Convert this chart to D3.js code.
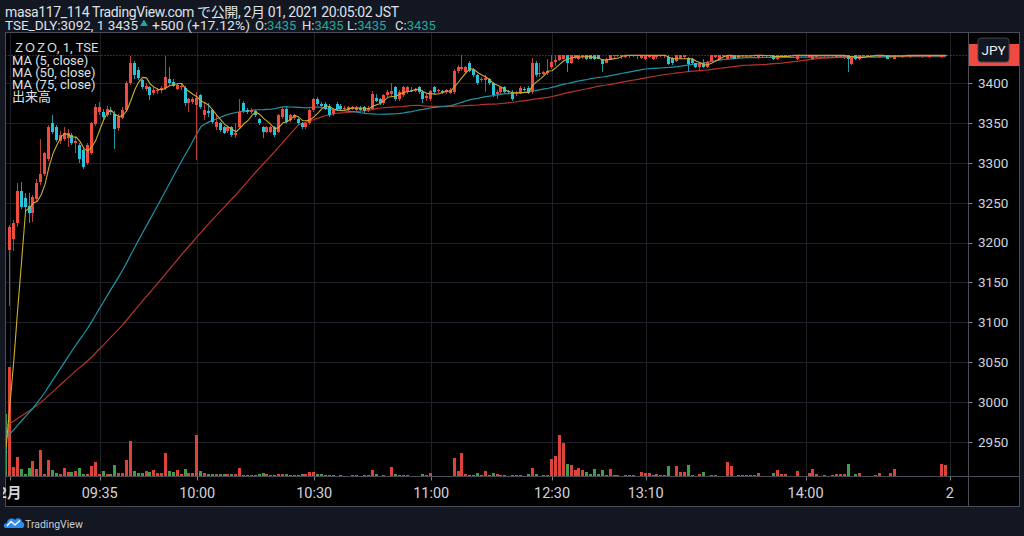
<!DOCTYPE html>
<html><head><meta charset="utf-8">
<script src="https://cdn.jsdelivr.net/npm/d3@7"></script>
<style>
html,body{margin:0;padding:0;background:#131722;overflow:hidden;}
svg{display:block;}
text{font-family:Roboto,"Noto Sans CJK JP",sans-serif;}
</style></head><body>
<svg id="c" width="1024" height="536"></svg>
<script>
// ---- DATA ----
// closes of the previous session that sit left of the visible window (used only for the moving averages)
const prevCloses = [
 3010,3012,3008,3006,3009,3005,3003,3007,3004,3001,3000,3002,2999,3003,3001,2998,2996,2999,2997,2995,2997,2994,2996,2993,2990,
 2978,2975,2972,2974,2970,2968,2971,2967,2965,2966,2963,2964,2961,2960,2962,2959,2960,2958,2957,2959,
 2956,2955,2957,2954,2953,2955,2952,2951,2953,2950,2951,2949,2950,2948,2947,2949,2946,2948,2945,2947,
 2944,2946,2943,2945,2942,
 2948,2945,2942,2944
];
// last bar of 29 Jan (visible at the left edge)  [open, high, low, close]
const prevBar = [2938, 2940, 2934, 2936];
const prevVol = 63;
// 1 Feb morning session [open, high, low, close]
const morningOHLC = [
 [3191,3222,3121,3220],[3204,3228,3190,3225],[3225,3275,3220,3265],[3265,3276,3242,3245],[3256,3262,3240,3245],
 [3246,3262,3225,3237],[3237,3260,3226,3257],[3255,3280,3252,3275],[3276,3330,3272,3286],[3286,3314,3284,3312],
 [3305,3348,3302,3345],[3350,3360,3336,3339],[3345,3348,3326,3329],[3327,3340,3324,3335],[3330,3345,3328,3337],
 [3331,3343,3320,3337],[3335,3338,3322,3325],[3325,3332,3312,3328],[3322,3325,3300,3305],[3316,3320,3292,3295],
 [3300,3325,3298,3322],[3313,3352,3310,3350],[3349,3374,3346,3370],[3364,3377,3360,3370],[3364,3368,3355,3358],
 [3360,3372,3358,3368],[3366,3370,3360,3364],[3362,3365,3318,3343],[3344,3362,3340,3358],[3357,3370,3355,3366],
 [3366,3403,3364,3400],[3400,3434,3398,3425],[3425,3428,3405,3410],[3417,3420,3404,3407],[3404,3406,3393,3395],
 [3393,3400,3390,3397],[3395,3397,3379,3385],[3388,3395,3385,3392],[3390,3394,3387,3392],[3391,3396,3388,3394],
 [3394,3434,3392,3408],[3406,3420,3398,3400],[3402,3405,3395,3397],[3393,3401,3391,3398],[3395,3399,3392,3397],
 [3394,3396,3372,3375],[3375,3382,3364,3380],[3376,3383,3374,3380],[3373,3389,3304,3382],[3385,3387,3368,3370],
 [3360,3375,3354,3366],[3365,3375,3358,3363],[3366,3368,3349,3351],[3345,3360,3341,3351],[3350,3352,3339,3341],
 [3345,3347,3336,3338],[3340,3347,3338,3345],[3345,3347,3333,3335],[3335,3350,3331,3337],[3345,3380,3343,3364],
 [3375,3378,3363,3365],[3366,3369,3362,3364],[3364,3369,3362,3367],[3365,3367,3358,3360],[3355,3357,3348,3350],
 [3345,3347,3331,3339],[3339,3347,3337,3345],[3339,3347,3337,3345],[3345,3347,3333,3335],[3339,3362,3337,3360],
 [3358,3370,3355,3368],[3368,3372,3349,3351],[3354,3362,3352,3360],[3356,3362,3354,3360],[3355,3357,3348,3350],
 [3350,3352,3343,3345],[3345,3352,3343,3350],[3350,3368,3348,3366],[3366,3382,3364,3380],[3380,3383,3372,3374],
 [3374,3376,3369,3371],[3374,3376,3366,3368],[3372,3374,3358,3360],[3361,3368,3359,3366],[3374,3376,3366,3368],
 [3372,3374,3366,3368],[3368,3371,3366,3369],[3367,3372,3365,3370],[3368,3372,3366,3370],[3367,3371,3365,3369],
 [3369,3371,3365,3367],[3370,3372,3363,3365],[3366,3371,3364,3369],[3368,3390,3366,3386],[3382,3386,3376,3378],
 [3380,3382,3373,3375],[3375,3387,3373,3385],[3385,3391,3383,3389],[3386,3400,3384,3390],[3395,3397,3378,3380],
 [3380,3391,3378,3389],[3385,3397,3383,3395],[3389,3397,3387,3395],[3392,3395,3389,3391],[3391,3394,3389,3392],
 [3395,3397,3387,3389],[3389,3391,3375,3380],[3381,3388,3378,3384],[3380,3392,3378,3390],[3395,3397,3387,3389],
 [3390,3393,3388,3391],[3390,3392,3387,3389],[3389,3393,3387,3391],[3388,3394,3386,3392],[3389,3418,3387,3416],
 [3415,3423,3413,3420],[3418,3435,3416,3420],[3414,3422,3412,3420],[3426,3428,3414,3416],[3417,3419,3408,3410],
 [3410,3412,3398,3400],[3404,3408,3402,3406],[3404,3410,3389,3407],[3405,3407,3398,3400],[3400,3402,3383,3385],
 [3387,3392,3380,3389],[3389,3397,3387,3395],[3395,3397,3387,3389],[3390,3392,3387,3389],[3389,3391,3378,3380],
 [3386,3390,3384,3388],[3388,3396,3386,3394],[3393,3395,3390,3392],[3394,3396,3386,3388],[3389,3432,3386,3425],
 [3425,3428,3408,3410],[3412,3425,3408,3413],[3412,3416,3410,3414],[3413,3430,3411,3415]
];
// 1 Feb afternoon session [open, high, low, close]
const afternoonOHLC = [
 [3420,3435,3418,3427],[3427,3435,3422,3429],[3429,3435,3428,3435],[3431,3435,3430,3435],[3435,3435,3414,3425],
 [3425,3435,3424,3435],[3432,3435,3430,3435],[3431,3435,3429,3435],[3433,3435,3431,3435],[3435,3435,3429,3430],
 [3435,3435,3430,3431],[3435,3435,3429,3430],[3435,3435,3430,3431],[3430,3431,3414,3424],[3426,3432,3425,3430],
 [3430,3435,3429,3435],[3434,3435,3432,3435],[3434,3435,3433,3435],[3434,3435,3431,3435],[3433,3435,3432,3435],
 [3434,3435,3432,3435],[3434,3435,3433,3435],[3434,3435,3430,3435],[3432,3435,3431,3435],[3430,3435,3429,3435],
 [3433,3435,3432,3435],[3430,3435,3429,3435],[3433,3435,3430,3435],[3434,3435,3433,3435],[3434,3435,3432,3435],
 [3433,3435,3423,3424],[3432,3433,3423,3425],[3428,3435,3427,3435],[3432,3435,3431,3435],[3433,3435,3432,3435],
 [3432,3433,3414,3424],[3431,3432,3424,3425],[3425,3426,3419,3420],[3420,3425,3415,3425],[3425,3431,3419,3420],
 [3420,3428,3419,3427],[3428,3435,3427,3435],[3433,3435,3432,3435],[3430,3435,3429,3435],[3434,3435,3433,3435],
 [3430,3435,3429,3435],[3432,3435,3431,3435],[3435,3435,3430,3431],[3432,3435,3431,3435],[3434,3435,3432,3435],
 [3434,3435,3433,3435],[3434,3435,3432,3435],[3434,3435,3433,3435],[3433,3435,3431,3435],[3434,3435,3433,3435],
 [3435,3435,3433,3434],[3435,3435,3433,3434],[3435,3435,3429,3430],[3430,3435,3429,3435],[3433,3435,3432,3435],
 [3433,3435,3432,3435],[3434,3435,3433,3435],[3434,3435,3433,3435],[3430,3435,3429,3435],[3434,3435,3433,3435],
 [3434,3435,3433,3435],[3433,3435,3432,3435],[3430,3435,3429,3435],[3433,3435,3432,3435],[3434,3435,3433,3435],
 [3434,3435,3432,3435],[3434,3435,3433,3435],[3434,3435,3433,3435],[3433,3435,3432,3435],[3433,3435,3432,3435],
 [3433,3435,3431,3435],[3435,3435,3414,3430],[3424,3434,3423,3433],[3435,3435,3429,3430],[3430,3435,3429,3435],
 [3434,3435,3433,3435],[3434,3435,3433,3435],[3434,3435,3433,3435],[3434,3435,3432,3435],[3433,3435,3432,3435],
 [3434,3435,3433,3435],[3435,3435,3430,3431],[3433,3435,3432,3435],[3431,3435,3430,3435],[3434,3435,3433,3435],
 [3434,3435,3432,3435],[3434,3435,3433,3435],[3433,3435,3432,3435],[3434,3435,3433,3435],[3434,3435,3433,3435],
 [3434,3435,3432,3435],[3434,3435,3433,3435],[3433,3435,3432,3435],[3434,3435,3433,3435],[3434,3435,3433,3435],
 [3433,3435,3432,3435],[3434,3435,3433,3435]
];
const morningVol = [
 110,10,20,8,3,9,16,8,27,3, 17,7,4,3,9,5,5,6,9,3, 3,11,15,3,6,3,3,12,4,4, 17,36,6,4,4,6,5,7,4,4,
 24,6,5,7,3,8,4,4,42,6, 4,3,3,3,3,3,3,3,3,9, 2,2,2,2,3,4,3,2,2,3, 3,3,2,2,2,3,3,5,5,3,
 3,2,2,2,1,2,1,1,2,2, 1,2,2,7,3,1,2,1,10,3, 2,2,2,1,1,1,3,2,4,1, 1,1,1,1,19,6,24,3,2,2,
 4,2,6,2,4,3,2,2,1,2, 2,2,1,3,9,3,1,2,2
];
const afternoonVol = [
 18,21,42,34,13,12,7,9,7,5, 3,8,3,7,2,8,2,2,1,2, 2,2,1,5,4,4,2,3,2,2, 11,1,11,5,5,12,2,1,3,5,
 1,2,2,1,1,15,11,1,2,2, 2,2,2,4,1,1,1,4,7,3, 3,1,1,6,1,1,4,8,3,1, 2,1,2,3,3,3,13,1,3,4,
 1,1,1,2,4,1,1,4,8,1, 1,1,1,1,1,1,1,1,1,1, 13,12
];
const priceTicks = [2950,3000,3050,3100,3150,3200,3250,3300,3350,3400];
const timeTickLabels = ["2月","09:35","10:00","10:30","11:00","12:30","13:10","14:00","2"];
const timeTickBars   = [0, 23, 48, 78, 108, 139, 163, 204, 241];
const maPeriods = [5, 50, 75];
const lastPrice = 3435;
const legendLines = ["MA (5, close)","MA (50, close)","MA (75, close)","出来高"];

// ---- SETUP ----
const bars = [prevBar].concat(morningOHLC, afternoonOHLC);   // bar k has index k-1
const vols = [prevVol].concat(morningVol, afternoonVol);
const svg = d3.select('#c');
const PL = 5.5, PT = 32.5, PR = 968.5, PB = 476.5, OR = 1019.5, OB = 506.5;
const x = d3.scaleLinear().domain([-1, 241]).range([6.1, 949.9]);
const y = d3.scaleLinear().domain([2950, 3400]).range([441.7, 83.3]);
const yv = d3.scaleLinear().domain([0, d3.max(vols)]).range([PB, PB - 110]);

const UP = '#ef4b3f', DN = '#28c3da', UPW = '#b8403a', DNW = '#1f95a8';
const VUP = '#de433a', VDN = '#3f9e4a';
const MA_COL = ['#cfae2c', '#1f93a6', '#b5342e'];
const TXT = '#d1d4dc';

svg.append('rect').attr('width',1024).attr('height',536).attr('fill','#131722');
svg.append('rect').attr('x',PL).attr('y',PT).attr('width',OR-PL).attr('height',OB-PT).attr('fill','#000');

const defs = svg.append('defs');
defs.append('clipPath').attr('id','plot').append('rect').attr('x',PL+0.5).attr('y',PT+0.5).attr('width',PR-PL-1).attr('height',PB-PT-1);
defs.append('clipPath').attr('id','taxis').append('rect').attr('x',3).attr('y',PB).attr('width',PR-3).attr('height',OB-PB);

// grid
const grid = svg.append('g').attr('clip-path','url(#plot)');
grid.selectAll('line.h').data(priceTicks).join('line')
  .attr('x1',PL).attr('x2',PR).attr('y1',d=>Math.round(y(d))+0.5).attr('y2',d=>Math.round(y(d))+0.5)
  .attr('stroke','#1e2129').attr('stroke-width',1);
grid.selectAll('line.v').data(timeTickBars).join('line')
  .attr('x1',d=>Math.round(x(d))+0.5).attr('x2',d=>Math.round(x(d))+0.5).attr('y1',PT).attr('y2',PB)
  .attr('stroke','#1e2129').attr('stroke-width',1);

const plot = svg.append('g').attr('clip-path','url(#plot)');

// volume
plot.append('g').attr('shape-rendering','crispEdges').selectAll('rect').data(vols).join('rect')
  .attr('x',(d,k)=>Math.floor(x(k-1)-1.5)).attr('width',3)
  .attr('y',d=>yv(d)).attr('height',d=>Math.max(0.5,PB-yv(d)))
  .attr('fill',(d,k)=> bars[k][3]>=bars[k][0] ? VUP : VDN);

// moving averages
const allCloses = prevCloses.concat(bars.map(b=>b[3]));
function sma(n){
  const out=[];
  for(let k=0;k<bars.length;k++){
    const end = prevCloses.length + k; let s=0;
    for(let j=end-n+1;j<=end;j++) s+=allCloses[j];
    out.push(s/n);
  }
  return out;
}
const line = d3.line().x((d,k)=>x(k-1)).y(d=>y(d));
[2,1].forEach(m=>{
  plot.append('path').datum(sma(maPeriods[m])).attr('d',line)
    .attr('fill','none').attr('stroke',MA_COL[m]).attr('stroke-width',1.2);
});

// candles
const cg = plot.append('g').attr('shape-rendering','crispEdges');
cg.selectAll('rect.w').data(bars).join('rect').attr('class','w')
  .attr('x',(d,k)=>Math.floor(x(k-1)-1.5)+1).attr('width',1)
  .attr('y',d=>y(d[1])).attr('height',d=>Math.max(1,y(d[2])-y(d[1])))
  .attr('fill',d=>d[3]>=d[0]?UPW:DNW);
cg.selectAll('rect.b').data(bars).join('rect').attr('class','b')
  .attr('x',(d,k)=>Math.floor(x(k-1)-1.5)).attr('width',3)
  .attr('y',d=>Math.min(y(d[0]),y(d[3]))).attr('height',d=>Math.max(1,Math.abs(y(d[0])-y(d[3]))))
  .attr('fill',d=>d[3]>=d[0]?UP:DN);

// MA5 over candles
plot.append('path').datum(sma(maPeriods[0])).attr('d',line)
  .attr('fill','none').attr('stroke',MA_COL[0]).attr('stroke-width',1.1);

// last price line
plot.append('line').attr('x1',PL).attr('x2',PR).attr('y1',y(lastPrice)).attr('y2',y(lastPrice))
  .attr('stroke','#ef5350').attr('stroke-dasharray','1,2').attr('stroke-width',1).attr('opacity',0.8);

// borders
const bc = '#4a4d57';
svg.append('rect').attr('x',PL).attr('y',PT).attr('width',OR-PL).attr('height',OB-PT)
  .attr('fill','none').attr('stroke',bc);
svg.append('line').attr('x1',PR).attr('x2',PR).attr('y1',PT).attr('y2',OB).attr('stroke',bc);
svg.append('line').attr('x1',PL).attr('x2',OR).attr('y1',PB).attr('y2',PB).attr('stroke',bc);

// price axis
const pa = svg.append('g');
pa.selectAll('line').data(priceTicks).join('line')
  .attr('x1',PR).attr('x2',PR+4).attr('y1',d=>Math.round(y(d))+0.5).attr('y2',d=>Math.round(y(d))+0.5)
  .attr('stroke','#7b7e87');
pa.selectAll('text').data(priceTicks).join('text')
  .attr('x',978).attr('y',d=>y(d)+4.8).attr('fill',TXT).attr('font-size',13.5).text(d=>d);
pa.append('rect').attr('x',PR+0.5).attr('y',44).attr('width',OR-PR-1).attr('height',22).attr('fill','#ef4a40');
pa.append('rect').attr('x',978).attr('y',38).attr('width',31).attr('height',24).attr('rx',3)
  .attr('fill','#131722').attr('stroke','#3e424d');
pa.append('text').attr('x',993.5).attr('y',55).attr('text-anchor','middle').attr('fill','#eceef2')
  .attr('font-size',13.5).text('JPY');

// time axis
const ta = svg.append('g').attr('clip-path','url(#taxis)');
ta.selectAll('line').data(timeTickBars).join('line')
  .attr('x1',d=>Math.round(x(d))+0.5).attr('x2',d=>Math.round(x(d))+0.5).attr('y1',PB).attr('y2',PB+4)
  .attr('stroke','#7b7e87');
ta.selectAll('text').data(timeTickLabels).join('text')
  .attr('x',(d,i)=>x(timeTickBars[i])).attr('y',497.5).attr('text-anchor','middle')
  .attr('fill',TXT).attr('font-size',14.5).attr('font-weight',(d,i)=>i===0?'bold':'normal').text(d=>d);

// header
const HTX = '#dfe1e6';
svg.append('text').attr('x',5).attr('y',17).attr('fill',HTX).attr('font-size',14)
  .attr('textLength',394).attr('lengthAdjust','spacing')
  .text('masa117_114 TradingView.com で公開, 2月 01, 2021 20:05:02 JST');
const teal = '#26a69a';
const h2 = svg.append('g').attr('font-size',13);
h2.append('text').attr('x',5).attr('y',29.5).attr('fill',HTX).attr('font-size',13.5).attr('textLength',133).attr('lengthAdjust','spacing').text('TSE_DLY:3092, 1 3435');
h2.append('text').attr('x',140).attr('y',26).attr('fill',teal).attr('font-size',8).text('▲');
h2.append('text').attr('x',152).attr('y',29.5).attr('fill',HTX).attr('textLength',98).attr('lengthAdjust','spacingAndGlyphs').text('+500 (+17.12%)');
[['O:',255],['H:',302],['L:',347],['C:',395]].forEach(([lab,px])=>{
  const t = h2.append('text').attr('x',px).attr('y',29.5).attr('fill',HTX).text(lab);
  t.append('tspan').attr('fill',teal).text('3435');
});

// legend in pane
const leg = svg.append('g').attr('fill',HTX).attr('font-size',13);
const l0 = leg.append('text').attr('x',13).attr('y',52);
l0.append('tspan').attr('font-size',12).attr('letter-spacing',-1).text('ＺＯＺＯ');
l0.append('tspan').text(', 1, TSE');
legendLines.forEach((t,i)=>{
  leg.append('text').attr('x',12).attr('y',64.5+i*12).text(t);
});

// footer logo
const logo = svg.append('g');
logo.append('path').attr('d','M6,528 C3,528 3,523 7,523 C7,519 12,517 15,520 C17,517 22,518 22,522 C25,522 25,528 22,528 Z')
  .attr('fill','#2d8cf0');
logo.append('path').attr('d','M7,526 L11,521.5 L15,525 L20,520.5').attr('fill','none').attr('stroke','#fff').attr('stroke-width',1.3);
svg.append('text').attr('x',25).attr('y',527.5).attr('fill','#c9ccd4').attr('font-size',10.5).text('TradingView');
</script></body></html>
